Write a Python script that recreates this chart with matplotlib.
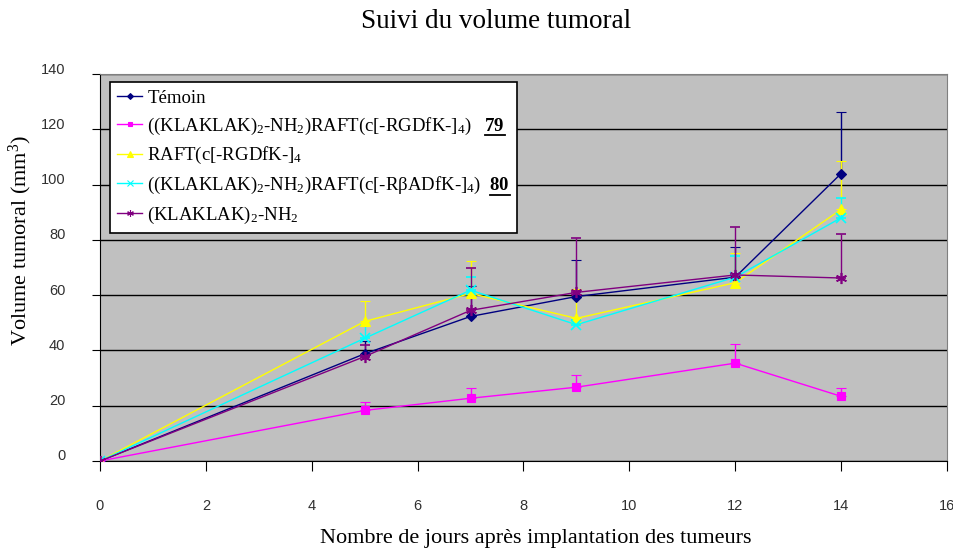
import matplotlib
matplotlib.use("Agg")
import matplotlib.pyplot as plt
import matplotlib.transforms as mtransforms
from matplotlib.lines import Line2D
import numpy as np

plt.rcParams['mathtext.fontset'] = 'custom'
plt.rcParams['mathtext.rm'] = 'Liberation Serif'
plt.rcParams['mathtext.it'] = 'Liberation Serif:italic'
plt.rcParams['mathtext.bf'] = 'Liberation Serif:bold'

days = [0, 5, 7, 9, 12, 14]

temoin = [0, 38.8, 52.3, 59.5, 66.5, 104.0]
temoin_top = [0, 43.5, 63.4, 72.8, 77.3, 126.2]

c79 = [0, 18.3, 22.7, 26.7, 35.4, 23.4]
c79_top = [0, 21.4, 26.4, 31.2, 42.4, 26.4]

raft = [0, 50.5, 60.6, 51.6, 64.5, 91.0]
raft_top = [0, 57.8, 72.5, 62.3, 75.4, 108.5]

c80 = [0, 44.4, 61.8, 49.3, 66.5, 88.0]
c80_top = [0, 49.3, 66.7, 51.0, 74.3, 95.3]

klak = [0, 37.8, 54.5, 61.0, 67.3, 66.2]
klak_top = [0, 42.0, 70.0, 80.5, 84.8, 82.2]

labels = [
    "Témoin",
    "((KLAKLAK)$_2$-NH$_2$)RAFT(c[-RGDfK-]$_4$)",
    "RAFT(c[-RGDfK-]$_4$",
    "((KLAKLAK)$_2$-NH$_2$)RAFT(c[-RβADfK-]$_4$)",
    "(KLAKLAK)$_2$-NH$_2$",
]
# compound numbers shown (bold, underlined) after some labels
compound_ids = {1: ("79", "   "), 3: ("80", "  ")}

series = [
    (temoin, temoin_top, "#000080", "D", 5),
    (c79, c79_top, "#FF00FF", "s", 6),
    (raft, raft_top, "#FFFF00", "^", 7),
    (c80, c80_top, "#00FFFF", "x", 7),
    (klak, klak_top, "#800080", (6, 2, 0), 8),
]

fig = plt.figure(figsize=(9.54, 5.5), dpi=100)
ax = fig.add_axes([100 / 954, 89 / 550, 847 / 954, 387 / 550])
ax.set_facecolor("#C0C0C0")

handles = []
for (vals, tops, color, marker, ms), lab in zip(series, labels):
    vals = np.array(vals)
    tops = np.array(tops)
    err = np.vstack([np.zeros_like(vals), tops - vals])
    thick = marker == "x" or isinstance(marker, tuple)
    ax.errorbar(days, vals, yerr=err, color=color, lw=1, elinewidth=1,
                capsize=3.5, capthick=1, marker=marker, ms=ms,
                markeredgewidth=1.2 if thick else 0.8, zorder=3)
    handles.append(Line2D([0], [0], color=color, lw=1, marker=marker,
                          ms=ms * 0.6, markeredgewidth=0.8))

ax.set_xlim(0, 16)
ax.set_ylim(0, 140)
ax.set_xticks(range(0, 17, 2))
ax.set_yticks(range(0, 141, 20))
ax.yaxis.grid(True, color="black", lw=1)
ax.set_axisbelow(True)

for side in ("top", "right"):
    ax.spines[side].set_color("#808080")
for side in ("left", "bottom"):
    ax.spines[side].set_color("black")

ax.tick_params(axis="y", direction="out", length=6, pad=19, labelsize=10.5,
               labelcolor="#303030")
ax.tick_params(axis="x", direction="out", length=7, pad=20, labelsize=10.5,
               labelcolor="#303030")
for lbl in ax.get_yticklabels():
    lbl.set_fontfamily("Liberation Sans")
    lbl.set_transform(lbl.get_transform() +
                      mtransforms.ScaledTranslation(0, 0.06, fig.dpi_scale_trans))
for lbl in ax.get_xticklabels():
    lbl.set_fontfamily("Liberation Sans")

fig.text(496 / 954, 1 - 22 / 550, "Suivi du volume tumoral", ha="center",
         va="center", fontsize=19.5, family="Liberation Serif")
fig.text(536 / 954, 1 - 538 / 550,
         "Nombre de jours après implantation des tumeurs", ha="center",
         va="center", fontsize=16, family="Liberation Serif")
fig.text(20 / 954, 1 - 241 / 550, "Volume tumoral (mm$^3$)", ha="center",
         va="center", rotation=90, fontsize=16, family="Liberation Serif")

leg_labels = []
for i, lab in enumerate(labels):
    if i in compound_ids:
        num, gap = compound_ids[i]
        lab = lab + gap + r"$\mathbf{" + num + "}$"
    leg_labels.append(lab)

leg_font = {"family": "Liberation Serif", "size": 13.5}
leg = ax.legend(handles, leg_labels, loc="upper left",
                bbox_to_anchor=(0.0118, 0.979), frameon=True, fancybox=False,
                edgecolor="black", framealpha=1, facecolor="white",
                prop=leg_font, handlelength=1.3, handletextpad=0.3,
                labelspacing=0.46, borderpad=0.4, borderaxespad=0)
leg.get_frame().set_linewidth(1.2)

# underline the compound numbers at the end of their legend labels
fig.canvas.draw()
renderer = fig.canvas.get_renderer()
texts = leg.get_texts()
for i, (num, _) in compound_ids.items():
    bb = texts[i].get_window_extent(renderer)
    probe = fig.text(0, 0, r"$\mathbf{" + num + "}$", fontsize=13.5,
                     family="Liberation Serif")
    w = probe.get_window_extent(renderer).width
    probe.remove()
    yl = (bb.y0 + 1.5) / fig.bbox.height
    fig.add_artist(Line2D([(bb.x1 - w) / fig.bbox.width, bb.x1 / fig.bbox.width],
                          [yl, yl], color="black", lw=1.3, zorder=10))

fig.savefig("out.png", dpi=100)
